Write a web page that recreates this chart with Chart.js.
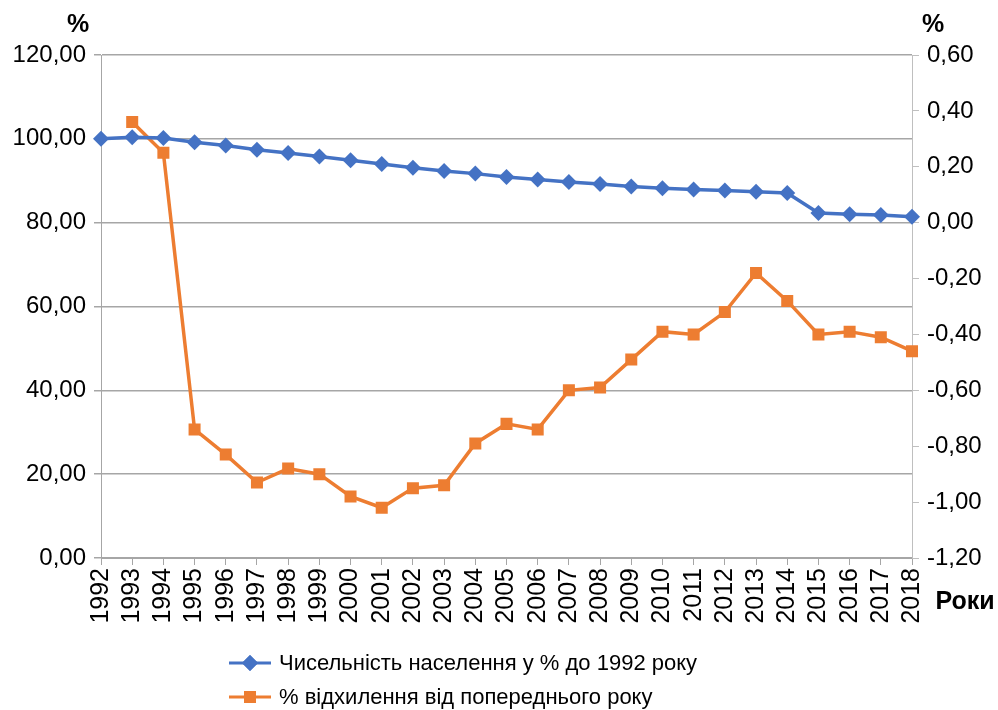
<!DOCTYPE html>
<html>
<head>
<meta charset="utf-8">
<script src="https://cdn.jsdelivr.net/npm/chart.js@4/dist/chart.umd.min.js"></script>
<style>
  html, body { margin: 0; padding: 0; background: #fff; }
  #wrap { width: 998px; height: 710px; position: relative; }
</style>
</head>
<body>
<div id="wrap"><canvas id="c" width="998" height="710"></canvas></div>
<script>
const years = ['1992','1993','1994','1995','1996','1997','1998','1999','2000','2001','2002','2003','2004','2005','2006','2007','2008','2009','2010','2011','2012','2013','2014','2015','2016','2017','2018'];
const populationPct = [100.0, 100.4, 100.2, 99.2, 98.4, 97.4, 96.6, 95.8, 94.9, 94.0, 93.1, 92.3, 91.7, 90.9, 90.3, 89.7, 89.2, 88.6, 88.2, 87.9, 87.7, 87.4, 87.1, 82.3, 82.0, 81.8, 81.4];
const changePct = [null, 0.36, 0.25, -0.74, -0.83, -0.93, -0.88, -0.90, -0.98, -1.02, -0.95, -0.94, -0.79, -0.72, -0.74, -0.60, -0.59, -0.49, -0.39, -0.40, -0.32, -0.18, -0.28, -0.40, -0.39, -0.41, -0.46];
const seriesNames = ['Чисельність населення у % до 1992 року', '% відхилення від попереднього року'];
const leftAxisTitle = '%';
const rightAxisTitle = '%';
const xAxisTitle = 'Роки';

const BLUE = '#4472C4';
const ORANGE = '#ED7D31';
const GRID = '#a6a6a6';
const FONT = "'Liberation Sans', Arial, sans-serif";

function fmt(v) { return v.toFixed(2).replace('.', ','); }

const extras = {
  id: 'extras',
  afterDraw(chart) {
    const ctx = chart.ctx;
    ctx.save();
    ctx.fillStyle = '#000';
    ctx.font = 'bold 25px ' + FONT;
    ctx.textAlign = 'center';
    ctx.textBaseline = 'middle';
    ctx.fillText(leftAxisTitle, 78, 25);
    ctx.fillText(rightAxisTitle, 933, 25);
    ctx.fillText(xAxisTitle, 965, 602);
    // legend
    const items = [
      { c: BLUE, style: 'rectRot', r: 8, y: 663 },
      { c: ORANGE, style: 'rect', r: 8.5, y: 697 }
    ];
    ctx.font = '22px ' + FONT;
    ctx.textAlign = 'left';
    items.forEach((it, i) => {
      ctx.strokeStyle = it.c;
      ctx.lineWidth = 3;
      ctx.beginPath();
      ctx.moveTo(229, it.y);
      ctx.lineTo(271, it.y);
      ctx.stroke();
      ctx.fillStyle = it.c;
      Chart.helpers.drawPoint(ctx, { pointStyle: it.style, radius: it.r, borderWidth: 0, rotation: 0 }, 250, it.y);
      ctx.fill();
      ctx.fillStyle = '#000';
      ctx.fillText(seriesNames[i], 279, it.y + 1);
    });
    ctx.restore();
  }
};

new Chart(document.getElementById('c'), {
  type: 'line',
  data: {
    labels: years,
    datasets: [
      {
        label: seriesNames[0],
        data: populationPct,
        yAxisID: 'y',
        borderColor: BLUE,
        backgroundColor: BLUE,
        borderWidth: 3.5,
        pointStyle: 'rectRot',
        pointRadius: 8,
        pointBorderWidth: 0,
        tension: 0
      },
      {
        label: seriesNames[1],
        data: changePct,
        yAxisID: 'y1',
        borderColor: ORANGE,
        backgroundColor: ORANGE,
        borderWidth: 3.5,
        pointStyle: 'rect',
        pointRadius: 8.5,
        pointBorderWidth: 0,
        tension: 0
      }
    ]
  },
  options: {
    responsive: false,
    animation: false,
    devicePixelRatio: 1,
    layout: { padding: { top: 55, bottom: 72, left: 0, right: 0 } },
    plugins: { legend: { display: false }, tooltip: { enabled: false } },
    scales: {
      x: {
        offset: false,
        grid: { display: true, drawOnChartArea: false, drawTicks: true, tickLength: 7, color: GRID, offset: false },
        border: { display: true, color: GRID, width: 1 },
        ticks: { color: '#000', font: { family: FONT, size: 25 }, minRotation: 90, maxRotation: 90, padding: 3, autoSkip: false },
        afterFit(s) { s.height = 80; }
      },
      y: {
        position: 'left',
        min: 0, max: 120,
        grid: { color: GRID, tickLength: 7, lineWidth: 1.5 },
        border: { display: true, color: GRID },
        ticks: { stepSize: 20, color: '#000', font: { family: FONT, size: 24 }, padding: 8, callback: v => fmt(v) },
        afterFit(s) { s.width = 101; }
      },
      y1: {
        position: 'right',
        min: -1.2, max: 0.6,
        grid: { drawOnChartArea: false, color: '#bfbfbf', tickLength: 7 },
        border: { display: true, color: '#bfbfbf' },
        ticks: { stepSize: 0.2, color: '#000', font: { family: FONT, size: 24 }, padding: 8, callback: v => fmt(Math.round(v * 100) / 100) },
        afterFit(s) { s.width = 86; }
      }
    }
  },
  plugins: [extras]
});
</script>
</body>
</html>
